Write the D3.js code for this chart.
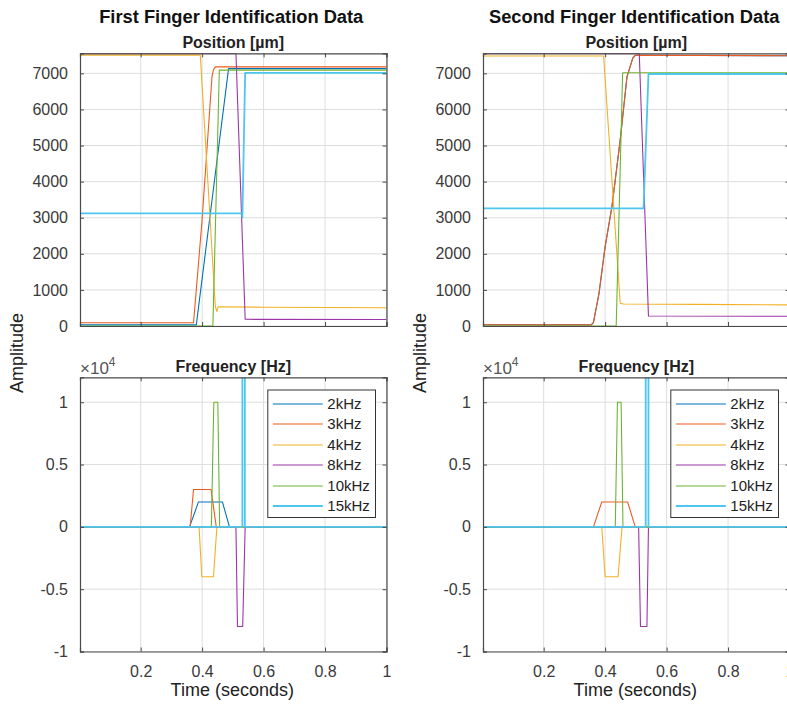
<!DOCTYPE html>
<html><head><meta charset="utf-8">
<script src="https://cdn.jsdelivr.net/npm/d3@7"></script>
<style>
body{margin:0;background:#fff;}
svg{display:block;font-family:"Liberation Sans",Arial,sans-serif;}
</style></head>
<body><svg id="chart" width="787" height="704"></svg>
<script>
// ---------- DATA ----------
const seriesNames = ["2kHz","3kHz","4kHz","8kHz","10kHz","15kHz"];
const seriesColors = ["#0072BD","#EE5A1E","#F2B125","#9A36A6","#6DB431","#4DC6F0"];
const panelTitles = ["First Finger Identification Data","Second Finger Identification Data"];
const topSubtitle = "Position [\u00b5m]";
const bottomSubtitle = "Frequency [Hz]";
const xTicks = [0.2,0.4,0.6,0.8,1];
const posTicks = [0,1000,2000,3000,4000,5000,6000,7000];
const freqTicks = [-10000,-5000,0,5000,10000];
const freqTickLabels = ["-1","-0.5","0","0.5","1"];

// First finger, position [t, value]
const pos1_2kHz  = [[0,30],[0.381,30],[0.486,7130],[1,7130]];
const pos1_3kHz  = [[0,90],[0.372,90],[0.399,2850],[0.432,6900],[0.437,7100],[0.443,7180],[1,7180]];
const pos1_4kHz  = [[0,7505],[0.394,7505],[0.443,535],[0.448,396],[0.452,535],[0.6,520],[1,505]];
const pos1_8kHz  = [[0,7554],[0.510,7554],[0.540,185],[1,180]];
const pos1_10kHz = [[0,0],[0.435,0],[0.456,7090],[1,7090]];
const pos1_15kHz = [[0,3120],[0.530,3120],[0.531,3000],[0.540,7015],[1,7015]];
// Second finger, position
const pos2_2kHz  = [[0,30],[0.355,30],[0.362,100],[0.380,900],[0.400,2200],[0.422,3300],[0.449,5150],[0.471,6900],[0.490,7420],[0.498,7500],[1,7488]];
const pos2_3kHz  = [[0,30],[0.355,30],[0.362,100],[0.380,900],[0.400,2200],[0.422,3300],[0.449,5150],[0.471,6900],[0.490,7420],[0.498,7500],[1,7488]];
const pos2_4kHz  = [[0,7480],[0.395,7480],[0.449,630],[0.46,610],[0.7,600],[1,585]];
const pos2_8kHz  = [[0,7554],[0.511,7554],[0.541,277],[1,270]];
const pos2_10kHz = [[0,0],[0.436,0],[0.457,7017],[1,7017]];
const pos2_15kHz = [[0,3260],[0.525,3260],[0.541,6981],[1,6981]];
// First finger, frequency
const freq1_2kHz  = [[0,0],[0.359,0],[0.388,2000],[0.466,2000],[0.489,0],[1,0]];
const freq1_3kHz  = [[0,0],[0.361,0],[0.372,3000],[0.429,3000],[0.446,0],[1,0]];
const freq1_4kHz  = [[0,0],[0.390,0],[0.399,-4000],[0.437,-4000],[0.448,0],[1,0]];
const freq1_8kHz  = [[0,0],[0.510,0],[0.515,-8000],[0.532,-8000],[0.540,0],[1,0]];
const freq1_10kHz = [[0,0],[0.430,0],[0.438,10000],[0.451,10000],[0.457,0],[1,0]];
const freq1_15kHz = [[0,0],[0.531,0],[0.531,15000],[0.539,15000],[0.539,0],[1,0]];
// Second finger, frequency
const freq2_2kHz  = [[0,0],[1,0]];
const freq2_3kHz  = [[0,0],[0.362,0],[0.389,2000],[0.473,2000],[0.498,0],[1,0]];
const freq2_4kHz  = [[0,0],[0.389,0],[0.400,-4000],[0.442,-4000],[0.455,0],[1,0]];
const freq2_8kHz  = [[0,0],[0.509,0],[0.515,-8000],[0.536,-8000],[0.541,0],[1,0]];
const freq2_10kHz = [[0,0],[0.433,0],[0.440,10000],[0.452,10000],[0.458,0],[1,0]];
const freq2_15kHz = [[0,0],[0.532,0],[0.532,15000],[0.541,15000],[0.541,0],[1,0]];

const posData = [
  [pos1_2kHz,pos1_3kHz,pos1_4kHz,pos1_8kHz,pos1_10kHz,pos1_15kHz],
  [pos2_2kHz,pos2_3kHz,pos2_4kHz,pos2_8kHz,pos2_10kHz,pos2_15kHz]];
const freqData = [
  [freq1_2kHz,freq1_3kHz,freq1_4kHz,freq1_8kHz,freq1_10kHz,freq1_15kHz],
  [freq2_2kHz,freq2_3kHz,freq2_4kHz,freq2_8kHz,freq2_10kHz,freq2_15kHz]];

// ---------- LAYOUT ----------
const svg = d3.select("#chart");
const panelsX = [[80,386.5],[483,789.5]];
const topY = [53.3,326];
const botY = [377.3,651.5];
const axisColor = "#4a4a4a", textColor = "#3a3a3a", gridColor = "#dedede";
const tickLen = 4;

function drawAxes(p, yr, yDomain, yTickVals, yTickFmt, data, subtitle, showX, idx){
  const [x0,x1] = panelsX[p];
  const x = d3.scaleLinear().domain([0.0025,1]).range([x0,x1]);
  const y = d3.scaleLinear().domain(yDomain).range([yr[1],yr[0]]);
  const g = svg.append("g");
  const cid = "clip"+p+"_"+idx;
  svg.append("defs").append("clipPath").attr("id",cid)
    .append("rect").attr("x",x0).attr("y",yr[0]).attr("width",x1-x0).attr("height",yr[1]-yr[0]);
  g.append("rect").attr("x",x0).attr("y",yr[0]).attr("width",x1-x0).attr("height",yr[1]-yr[0]).attr("fill","#fff");
  // grid
  g.append("g").selectAll("line").data(xTicks).join("line")
    .attr("x1",d=>x(d)).attr("x2",d=>x(d)).attr("y1",yr[0]).attr("y2",yr[1])
    .attr("stroke",gridColor).attr("stroke-width",1);
  g.append("g").selectAll("line").data(yTickVals).join("line")
    .attr("x1",x0).attr("x2",x1).attr("y1",d=>y(d)).attr("y2",d=>y(d))
    .attr("stroke",gridColor).attr("stroke-width",1);
  // lines
  const line = d3.line().x(d=>x(d[0])).y(d=>y(d[1]));
  const lg = g.append("g").attr("clip-path",`url(#${cid})`);
  data.forEach((s,i)=>{
    lg.append("path").datum(s).attr("d",line).attr("fill","none")
      .attr("stroke",seriesColors[i]).attr("stroke-width", i===5?1.8:1.1)
      .attr("stroke-linejoin","round");
  });
  // axes with inward ticks
  const ax = g.append("g").attr("class","axes");
  const yl = d3.axisLeft(y).tickValues(yTickVals).tickSize(-tickLen).tickPadding(8+tickLen).tickFormat(yTickFmt);
  const yrA = d3.axisRight(y).tickValues(yTickVals).tickSize(-tickLen).tickFormat("");
  const xb = d3.axisBottom(x).tickValues(xTicks).tickSize(-tickLen).tickPadding(10+tickLen).tickFormat(d=>showX?d3.format("")(d):"");
  const xt = d3.axisTop(x).tickValues(xTicks).tickSize(-tickLen).tickFormat("");
  const gl = ax.append("g").attr("transform",`translate(${x0},0)`).call(yl);
  const gr = ax.append("g").attr("transform",`translate(${x1},0)`).call(yrA);
  const gb = ax.append("g").attr("transform",`translate(0,${yr[1]})`).call(xb);
  const gt = ax.append("g").attr("transform",`translate(0,${yr[0]})`).call(xt);
  [gl,gr,gb,gt].forEach(a=>{
    a.selectAll(".domain").attr("stroke",axisColor).attr("stroke-width",1.2);
    a.selectAll(".tick line").attr("stroke",axisColor);
    a.selectAll("text").attr("fill",textColor).style("font-size","16px").style("font-family","'Liberation Sans',Arial,sans-serif");
  });
  gb.selectAll("text").attr("dy","0.71em");
  // subtitle
  svg.append("text").attr("x",(x0+x1)/2).attr("y",yr[0]-5.5).attr("text-anchor","middle")
    .attr("font-weight","bold").attr("font-size","16px").attr("fill","#222").text(subtitle);
  return {x,y};
}

[0,1].forEach(p=>{
  const [x0,x1] = panelsX[p];
  svg.append("text").attr("x",(x0+x1)/2 - 2).attr("y",22.5).attr("text-anchor","middle")
    .attr("font-weight","bold").attr("font-size","18.3px").attr("fill","#111").text(panelTitles[p]);
  drawAxes(p, topY, [0,7555], posTicks, d3.format("d"), posData[p], topSubtitle, false, 0);
  drawAxes(p, botY, [-10000,12000], freqTicks, (d,i)=>freqTickLabels[i], freqData[p], bottomSubtitle, true, 1);
  // exponent label
  const ex = svg.append("text").attr("x",x0).attr("y",373.5).attr("fill","#555").attr("font-size","17px");
  ex.append("tspan").text("\u00d710");
  ex.append("tspan").attr("dy",-7.5).attr("font-size","12px").text("4");
  // y label
  svg.append("text").attr("transform",`translate(${x0-57.5},353) rotate(-90)`).attr("text-anchor","middle")
    .attr("font-size","18px").attr("fill","#222").text("Amplitude");
  // x label
  svg.append("text").attr("x",(x0+x1)/2-1).attr("y",696).attr("text-anchor","middle")
    .attr("font-size","18px").attr("fill","#222").text("Time (seconds)");
  // legend
  const lx = x1 - 118.7, ly = 390, lw = 107.7, lh = 127.5;
  const lgd = svg.append("g");
  lgd.append("rect").attr("x",lx).attr("y",ly).attr("width",lw).attr("height",lh)
    .attr("fill","#fff").attr("stroke","#333").attr("stroke-width",1);
  seriesNames.forEach((n,i)=>{
    const yy = 403.5 + i*20.5;
    lgd.append("line").attr("x1",lx+5).attr("x2",lx+55).attr("y1",Math.round(yy)).attr("y2",Math.round(yy))
      .attr("stroke",seriesColors[i]).attr("stroke-width", i===5?2:1.1);
    lgd.append("text").attr("x",lx+59.5).attr("y",yy).attr("dy","0.35em")
      .attr("font-size","15px").attr("fill","#222").text(n);
  });
});
</script></body></html>
